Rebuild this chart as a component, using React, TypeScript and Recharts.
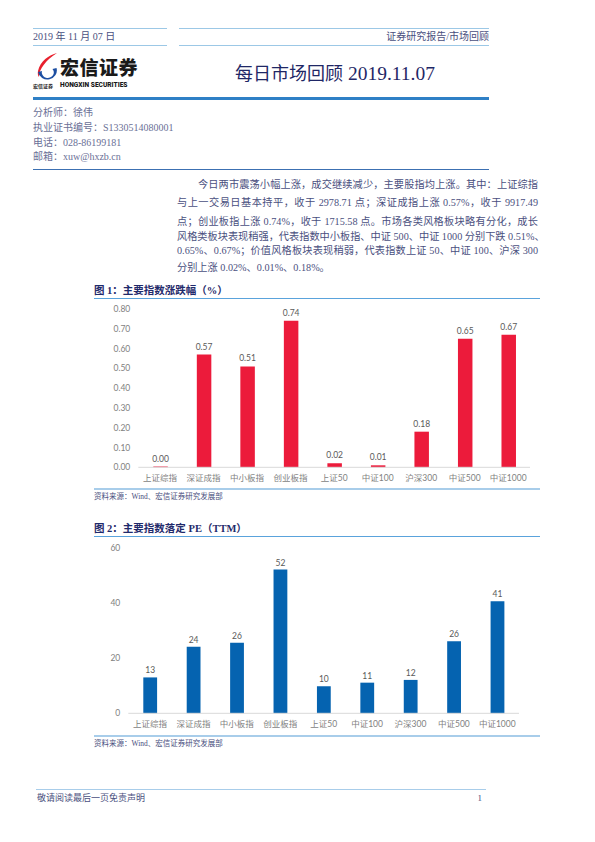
import React from 'react'
import { BarChart, Bar, XAxis, YAxis, LabelList } from 'recharts'

const indexNames = ['上证综指', '深证成指', '中小板指', '创业板指', '上证50', '中证100', '沪深300', '中证500', '中证1000']
const dailyChange = [0.004, 0.57, 0.51, 0.74, 0.02, 0.01, 0.18, 0.65, 0.67]
const peTtm = [13.0, 24.1, 25.6, 52.1, 9.8, 11.1, 12.1, 26.1, 40.6]
const changeTicks = [0, 0.1, 0.2, 0.3, 0.4, 0.5, 0.6, 0.7, 0.8]
const peTicks = [0, 20, 40, 60]

const paragraph = [
  '今日两市震荡小幅上涨，成交继续减少，主要股指均上涨。其中：上证综指',
  '与上一交易日基本持平，收于 2978.71 点；深证成指上涨 0.57%，收于 9917.49',
  '点；创业板指上涨 0.74%，收于 1715.58 点。市场各类风格板块略有分化，成长',
  '风格类板块表现稍强，代表指数中小板指、中证 500、中证 1000 分别下跌 0.51%、',
  '0.65%、0.67%；价值风格板块表现稍弱，代表指数上证 50、中证 100、沪深 300',
  '分别上涨 0.02%、0.01%、0.18%。',
]
const paragraphY = [185, 203, 221.5, 237, 251, 268]

const analyst = ['分析师：徐伟', '执业证书编号：S1330514080001', '电话：028-86199181', '邮箱：xuw@hxzb.cn']
const analystY = [113, 128, 143, 157]

const changeData = indexNames.map((name, i) => ({ name, value: dailyChange[i] }))
const peData = indexNames.map((name, i) => ({ name, value: peTtm[i] }))

const SERIF = '"Liberation Serif", "Noto Sans CJK SC", serif'
const CHART_FONT = 'Lato, "Noto Sans CJK SC", sans-serif'
const TEXT = '#4a4f7e'

const abs = (left: number, top: number, extra: React.CSSProperties = {}): React.CSSProperties => ({
  position: 'absolute', left, top, ...extra,
})

function Line({ x1, x2, y, color, h = 1 }: { x1: number; x2: number; y: number; color: string; h?: number }) {
  return <div style={abs(x1, y - h / 2, { width: x2 - x1, height: h, background: color })} />
}

function Logo() {
  return (
    <div style={abs(33, 52, { width: 110, height: 40 })}>
      <svg width={24} height={30} viewBox="0 0 24 30" style={{ position: 'absolute', left: 1, top: 0 }}>
        <path d="M23 1 C15 3 6 9 4 19 C3.5 22 4 24 5 25 C5 17 12 8 23 1 Z" fill="#e8212e" />
        <path
          fillRule="evenodd"
          d="M4 20 A9.5 9 0 1 0 22.5 16 L18.5 17 A6 5.5 0 1 1 8 19 Z"
          fill="#1d4fa2"
        />
      </svg>
      <div style={abs(27, 3, { fontFamily: '"Noto Sans CJK SC", sans-serif', fontWeight: 900, fontSize: 19, letterSpacing: 0.5, color: '#1a1a1a', lineHeight: '24px' })}>宏信证券</div>
      <div style={abs(0, 30, { fontFamily: '"Noto Sans CJK SC", sans-serif', fontWeight: 700, fontSize: 5, color: '#1a1a1a', lineHeight: '8px' })}>宏信证券</div>
      <div style={abs(27, 29, { fontFamily: 'Roboto, sans-serif', fontWeight: 900, fontSize: 6.6, color: '#1a1a1a', lineHeight: '9px', whiteSpace: 'nowrap' })}>HONGXIN SECURITIES</div>
    </div>
  )
}

function ChartTitle({ top, text }: { top: number; text: string }) {
  return (
    <>
      <div style={abs(94, top - 7, { fontFamily: SERIF, fontWeight: 700, fontSize: 10.5, color: '#1f2a6b', lineHeight: '14px', whiteSpace: 'nowrap' })}>{text}</div>
      <Line x1={94} x2={540} y={top + 7} color="#5aa3dc" />
    </>
  )
}

function Source({ top }: { top: number }) {
  return (
    <>
      <Line x1={94} x2={540} y={top} color="#a8cdea" h={1.5} />
      <div style={abs(94, top + 3, { fontFamily: SERIF, fontSize: 7.5, color: TEXT, lineHeight: '10px', whiteSpace: 'nowrap' })}>资料来源：Wind、宏信证券研究发展部</div>
    </>
  )
}

export default function App() {
  return (
    <div style={abs(0, 0, { width: 595, height: 842, background: '#fff', overflow: 'hidden' })}>
      {/* header */}
      <Line x1={33} x2={167} y={28} color="#9cc8e6" />
      <Line x1={33} x2={167} y={45} color="#9cc8e6" />
      <Line x1={179} x2={489} y={28} color="#9cc8e6" />
      <Line x1={179} x2={489} y={45} color="#9cc8e6" />
      <div style={abs(33, 30, { fontFamily: SERIF, fontSize: 10, color: TEXT, lineHeight: '14px' })}>2019 年 11 月 07 日</div>
      <div style={abs(300, 30, { width: 189, textAlign: 'right', fontFamily: SERIF, fontSize: 10, color: TEXT, lineHeight: '14px' })}>证券研究报告/市场回顾</div>
      <Logo />
      <div style={abs(235, 59, { fontFamily: '"Noto Sans CJK SC", sans-serif', fontSize: 18, color: '#1f2766', lineHeight: '26px', whiteSpace: 'nowrap' })}>
        每日市场回顾<span style={{ fontFamily: '"Liberation Serif", serif', fontSize: 19.5 }}> 2019.11.07</span>
      </div>
      <Line x1={33} x2={489} y={98.5} color="#2f80c6" h={2.5} />
      {analyst.map((t, i) => (
        <div key={t} style={abs(33, analystY[i] - 7, { fontFamily: SERIF, fontSize: 10, color: '#6a6f96', lineHeight: '14px', whiteSpace: 'nowrap' })}>{t}</div>
      ))}
      <Line x1={33} x2={489} y={169} color="#3c70b2" />

      {/* body paragraph */}
      {paragraph.map((t, i) => (
        <div
          key={i}
          style={abs(177, paragraphY[i] - 8, {
            width: 361,
            boxSizing: 'border-box',
            paddingLeft: i === 0 ? 21 : 0,
            fontFamily: SERIF,
            fontSize: 10.2,
            color: TEXT,
            lineHeight: '16px',
            whiteSpace: 'nowrap',
            textAlign: i === paragraph.length - 1 ? 'left' : 'justify',
            textAlignLast: i === paragraph.length - 1 ? 'left' : 'justify',
          })}
        >
          {t}
        </div>
      ))}

      {/* figure 1 */}
      <ChartTitle top={291} text="图 1：主要指数涨跌幅（%）" />
      <div style={abs(80, 300)}>
        <BarChart width={460} height={186} data={changeData} margin={{ top: 9, right: 10, left: 0, bottom: 0 }} style={{ fontFamily: CHART_FONT }}>
          <XAxis dataKey="name" interval={0} height={18.7} tickLine={false} axisLine={{ stroke: '#d9d9d9' }} tick={{ fontSize: 8.5, fill: '#7f7f7f' }} />
          <YAxis width={58.3} domain={[0, 0.8]} ticks={changeTicks} tickFormatter={(v: number) => v.toFixed(2)} axisLine={false} tickLine={false} tick={{ fontSize: 8.5, fill: '#7f7f7f' }} />
          <Bar dataKey="value" fill="#ec1b3b" barSize={14.5} isAnimationActive={false}>
            <LabelList dataKey="value" position="top" offset={5} formatter={(v: number) => v.toFixed(2)} style={{ fontSize: 8.5, fill: '#595959' }} />
          </Bar>
        </BarChart>
      </div>
      <Source top={489} />

      {/* figure 2 */}
      <ChartTitle top={529} text="图 2：主要指数落定 PE（TTM）" />
      <div style={abs(80, 540)}>
        <BarChart width={460} height={192} data={peData} margin={{ top: 7.7, right: 21, left: 0, bottom: 0 }} style={{ fontFamily: CHART_FONT }}>
          <XAxis dataKey="name" interval={0} height={18.7} tickLine={false} axisLine={{ stroke: '#d9d9d9' }} tick={{ fontSize: 8.5, fill: '#7f7f7f' }} />
          <YAxis width={48.3} domain={[0, 60]} ticks={peTicks} axisLine={false} tickLine={false} tick={{ fontSize: 8.5, fill: '#7f7f7f' }} />
          <Bar dataKey="value" fill="#0563b0" barSize={13.8} isAnimationActive={false}>
            <LabelList dataKey="value" position="top" offset={4} formatter={(v: number) => Math.round(v).toString()} style={{ fontSize: 8.5, fill: '#595959' }} />
          </Bar>
        </BarChart>
      </div>
      <Source top={736} />

      {/* footer */}
      <Line x1={36} x2={486} y={789} color="#a8cdea" />
      <div style={abs(37, 792, { fontFamily: SERIF, fontSize: 9, color: TEXT, lineHeight: '12px' })}>敬请阅读最后一页免责声明</div>
      <div style={abs(470, 792, { width: 12, textAlign: 'right', fontFamily: SERIF, fontSize: 9, color: TEXT, lineHeight: '12px' })}>1</div>
    </div>
  )
}
